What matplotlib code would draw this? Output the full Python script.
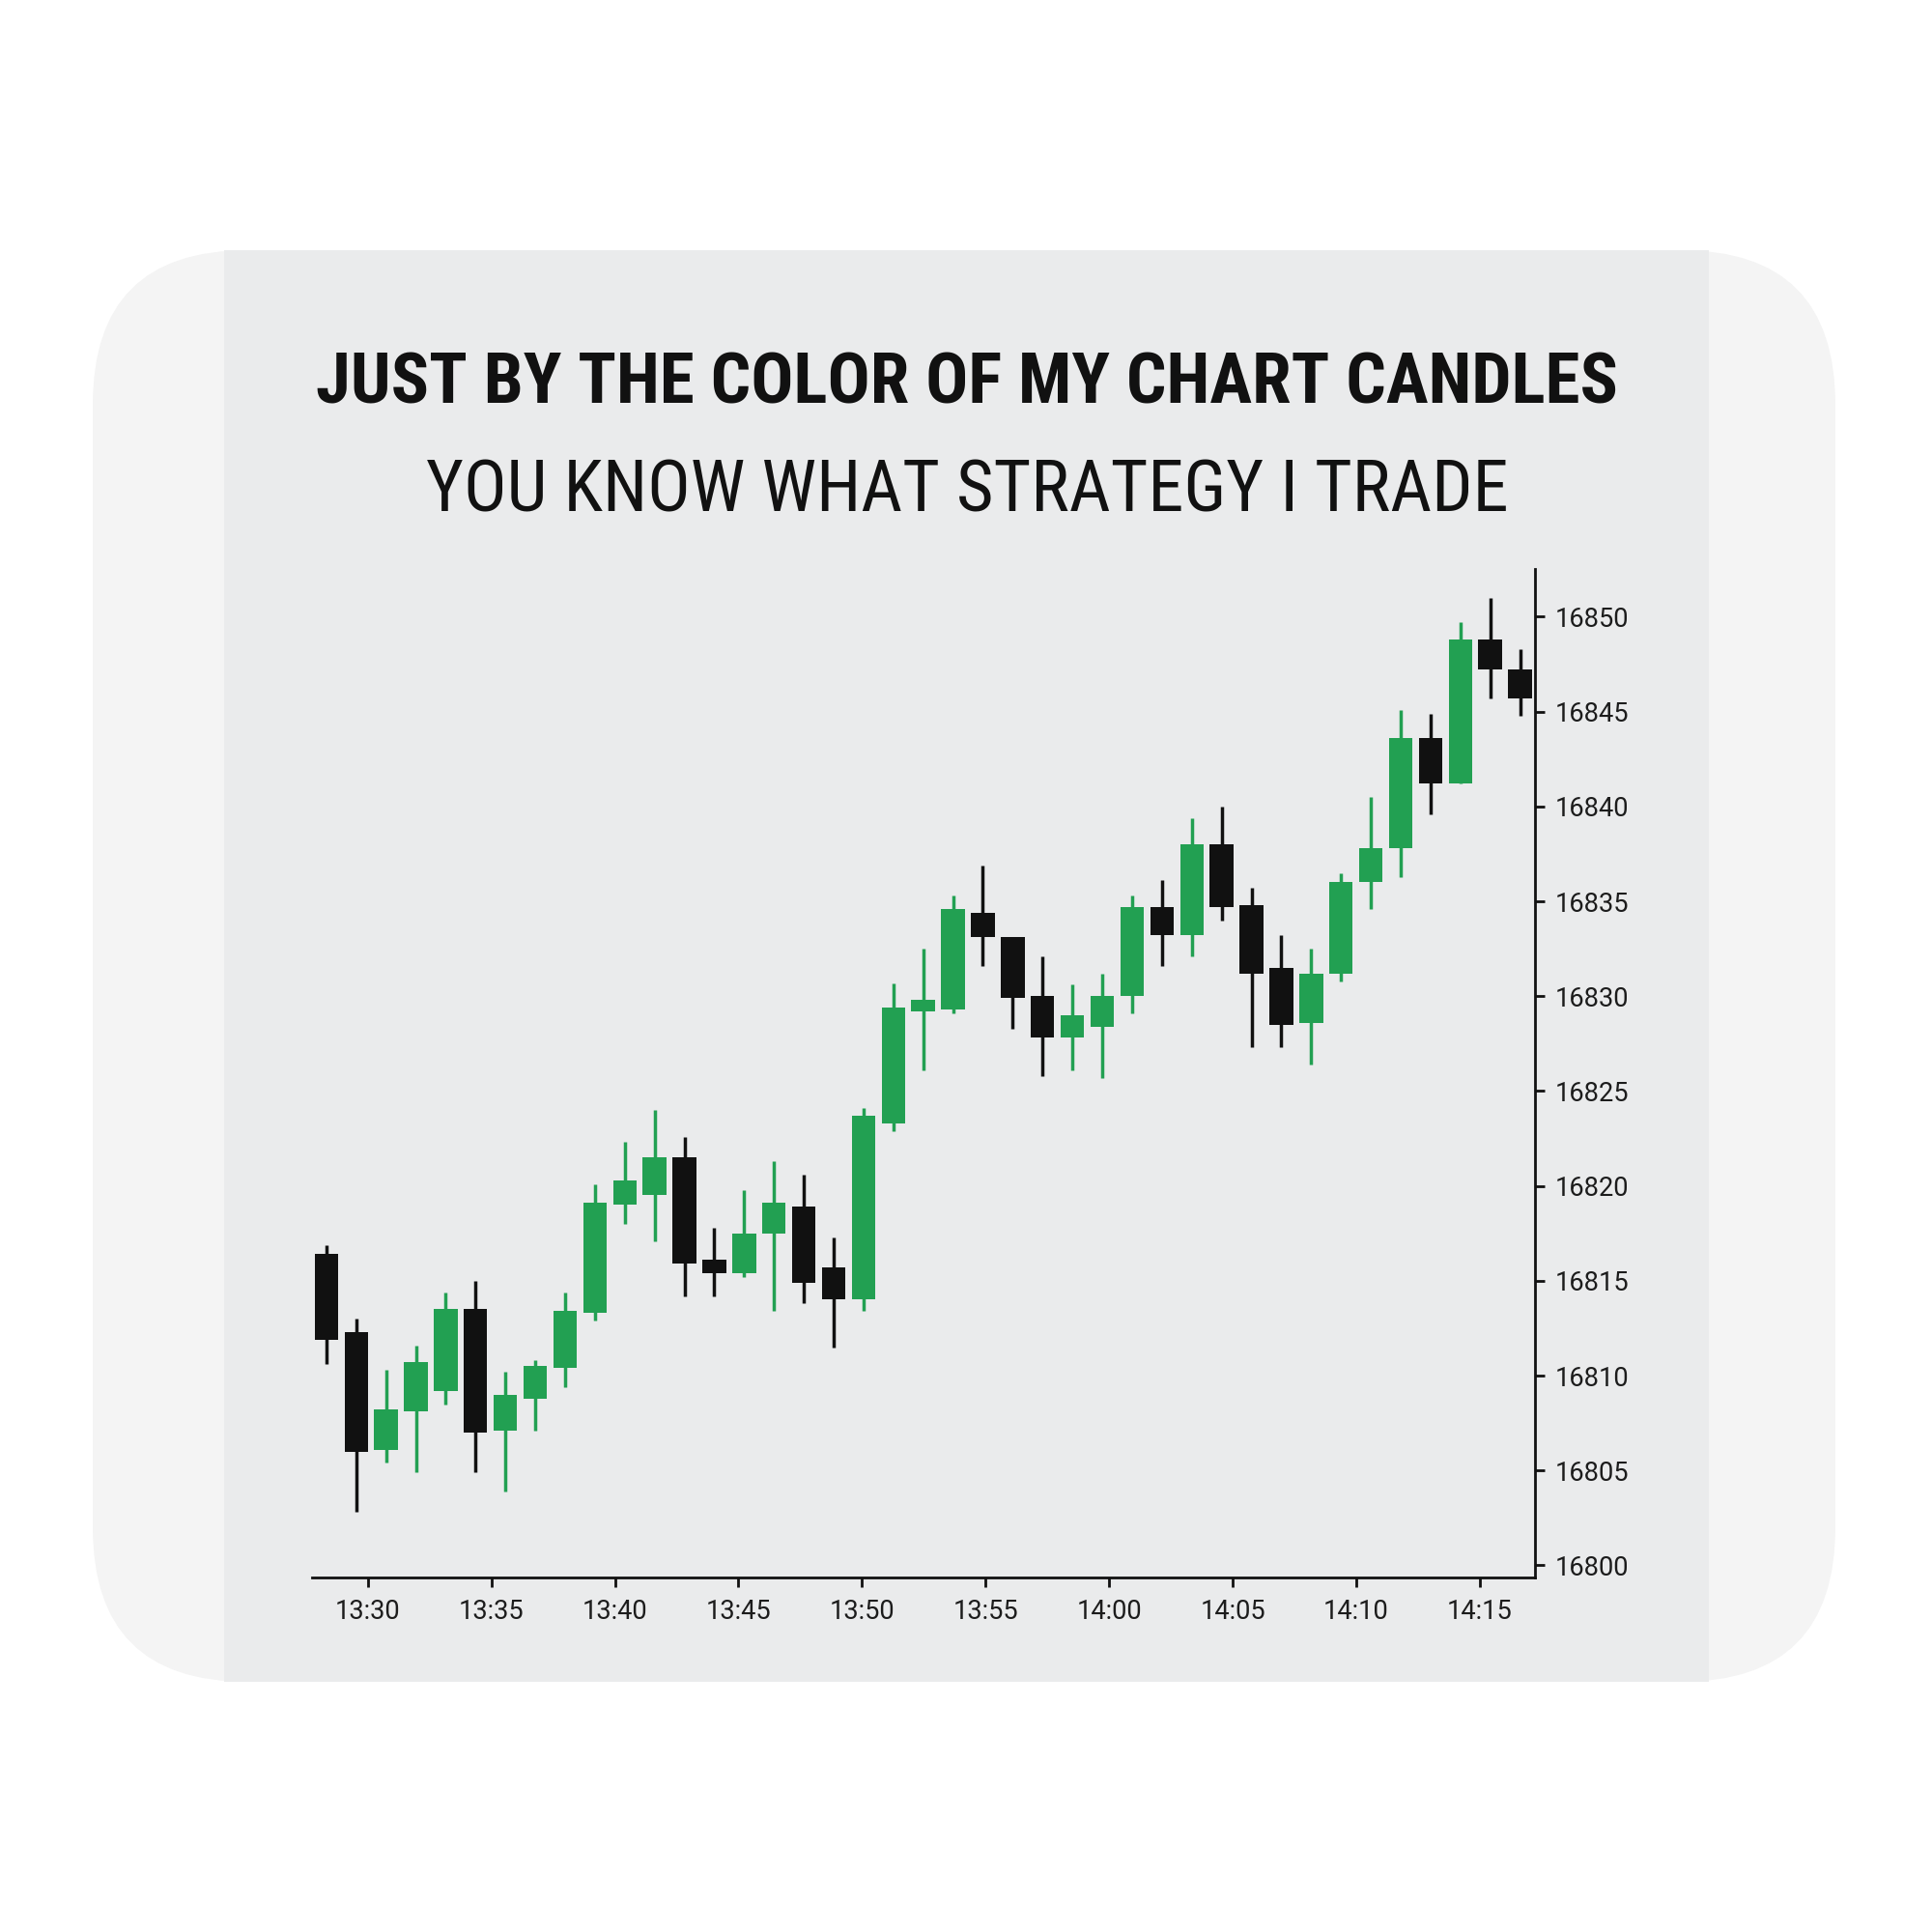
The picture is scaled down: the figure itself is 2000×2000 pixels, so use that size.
import os
import matplotlib
matplotlib.use("Agg")
import matplotlib.pyplot as plt
from matplotlib import font_manager as fm
from matplotlib.patches import FancyBboxPatch, Rectangle

# candle data (41 bars)
opens = [16816.4, 16812.3, 16806.1, 16808.1, 16809.2, 16813.5, 16807.1, 16808.8, 16810.4, 16813.3,
         16819.0, 16819.5, 16821.5, 16816.1, 16815.4, 16817.5, 16818.9, 16815.7, 16814.0, 16823.3,
         16829.2, 16829.3, 16834.4, 16833.1, 16830.0, 16827.8, 16828.4, 16830.0, 16834.7, 16833.2,
         16838.0, 16834.8, 16831.5, 16828.6, 16831.2, 16836.0, 16837.8, 16843.6, 16841.2, 16848.8,
         16847.2]
highs = [16816.9, 16813.0, 16810.3, 16811.6, 16814.4, 16815.0, 16810.2, 16810.8, 16814.4, 16820.1,
         16822.3, 16824.0, 16822.6, 16817.8, 16819.8, 16821.3, 16820.6, 16817.3, 16824.1, 16830.7,
         16832.5, 16835.3, 16836.9, 16833.1, 16832.1, 16830.6, 16831.2, 16835.3, 16836.1, 16839.4,
         16840.0, 16835.7, 16833.2, 16832.5, 16836.5, 16840.5, 16845.1, 16844.9, 16849.7, 16851.0,
         16848.3]
lows = [16810.6, 16802.8, 16805.4, 16804.9, 16808.5, 16804.9, 16803.9, 16807.1, 16809.4, 16812.9,
        16818.0, 16817.1, 16814.2, 16814.2, 16815.2, 16813.4, 16813.8, 16811.5, 16813.4, 16822.9,
        16826.1, 16829.1, 16831.6, 16828.3, 16825.8, 16826.1, 16825.7, 16829.1, 16831.6, 16832.1,
        16834.0, 16827.3, 16827.3, 16826.4, 16830.8, 16834.6, 16836.3, 16839.6, 16841.2, 16845.7,
        16844.8]
closes = [16811.9, 16806.0, 16808.2, 16810.7, 16813.5, 16807.0, 16809.0, 16810.5, 16813.4, 16819.1,
          16820.3, 16821.5, 16815.9, 16815.4, 16817.5, 16819.1, 16814.9, 16814.0, 16823.7, 16829.4,
          16829.8, 16834.6, 16833.1, 16829.9, 16827.8, 16829.0, 16830.0, 16834.7, 16833.2, 16838.0,
          16834.7, 16831.2, 16828.5, 16831.2, 16836.0, 16837.8, 16843.6, 16841.2, 16848.8, 16847.2,
          16845.7]

# time labels do not line up with the bars in the original
xtick_labels = ["13:30", "13:35", "13:40", "13:45", "13:50", "13:55", "14:00", "14:05", "14:10", "14:15"]
xtick_pos = [1.39, 5.53, 9.67, 13.81, 17.95, 22.09, 26.23, 30.37, 34.51, 38.65]
ytick_vals = [16800, 16805, 16810, 16815, 16820, 16825, 16830, 16835, 16840, 16845, 16850]

title_1 = "JUST BY THE COLOR OF MY CHART CANDLES"
title_2 = "YOU KNOW WHAT STRATEGY I TRADE"

GREEN = "#22a052"
BLACK = "#111111"


def pick_font(patterns):
    files = {os.path.basename(f.fname).lower(): f.fname for f in fm.fontManager.ttflist}
    for p in patterns:
        for base, path in files.items():
            if base.startswith(p.lower()):
                return fm.FontProperties(fname=path)
    return None


bold_font = pick_font(["NotoSans-ExtraCondensedBold.", "NotoSans-CondensedBold.", "RobotoCondensed-Bold.",
                       "LiberationSansNarrow-Bold.", "DejaVuSansCondensed-Bold.", "OpenSans-CondensedBold"])
reg_font = pick_font(["NotoSans-ExtraCondensed.", "NotoSans-Condensed.", "RobotoCondensed-Regular.",
                      "LiberationSansNarrow-Regular.", "DejaVuSansCondensed.", "OpenSans-CondensedRegular"])
if bold_font is None:
    bold_font = fm.FontProperties(family="DejaVu Sans", weight="bold")
if reg_font is None:
    reg_font = fm.FontProperties(family="DejaVu Sans")

plt.rcParams['font.family'] = ['Roboto', 'DejaVu Sans']

fig = plt.figure(figsize=(10, 10), dpi=200)
fig.patch.set_facecolor("white")

# mouse pad and printed area, kept below the axes
pad = FancyBboxPatch((0.048, 0.1295), 0.902, 0.741, boxstyle="round,pad=0,rounding_size=0.08",
                     transform=fig.transFigure, facecolor="#f4f4f4", edgecolor="none", zorder=-2)
fig.patches.append(pad)
fig.patches.append(Rectangle((0.116, 0.1295), 0.7685, 0.741, transform=fig.transFigure,
                             facecolor="#eaebec", edgecolor="none", zorder=-1))

ax = fig.add_axes([0.1615, 0.1833, 0.633, 0.522])
ax.set_facecolor("none")
ax.set_zorder(1)

x = list(range(len(opens)))
colors = [GREEN if c > o else BLACK for o, c in zip(opens, closes)]
bottoms = [min(o, c) for o, c in zip(opens, closes)]
heights = [abs(c - o) for o, c in zip(opens, closes)]

ax.vlines(x, lows, highs, colors=colors, linewidth=1.25, zorder=2)
ax.bar(x, heights, bottom=bottoms, width=0.79, color=colors, edgecolor="none", zorder=3)

ax.set_xlim(-0.48, 40.5)
ax.set_ylim(16799.34, 16852.5)

for s in ["left", "top"]:
    ax.spines[s].set_visible(False)
for s in ["right", "bottom"]:
    ax.spines[s].set_linewidth(1.0)
    ax.spines[s].set_color("#111111")

ax.yaxis.tick_right()
ax.set_yticks(ytick_vals)
ax.set_yticklabels([str(v) for v in ytick_vals])
ax.set_xticks(xtick_pos)
ax.set_xticklabels(xtick_labels)
ax.tick_params(axis="both", length=3.6, width=1.0, color="#111111", labelsize=9.8,
               labelcolor="#1c1c1c", pad=4)

# titles, size fitted to the width seen in the picture
t1 = fig.text(0.5005, 0.791, title_1, ha="center", va="baseline", fontproperties=bold_font,
              fontsize=60, color="#111111")
t2 = fig.text(0.5005, 0.7354, title_2, ha="center", va="baseline", fontproperties=reg_font,
              fontsize=60, color="#111111")
renderer = fig.canvas.get_renderer()
for t, target in [(t1, 1347), (t2, 1120)]:
    w = t.get_window_extent(renderer).width
    t.set_fontsize(60 * target / w)

fig.savefig("out.png", dpi=200)
